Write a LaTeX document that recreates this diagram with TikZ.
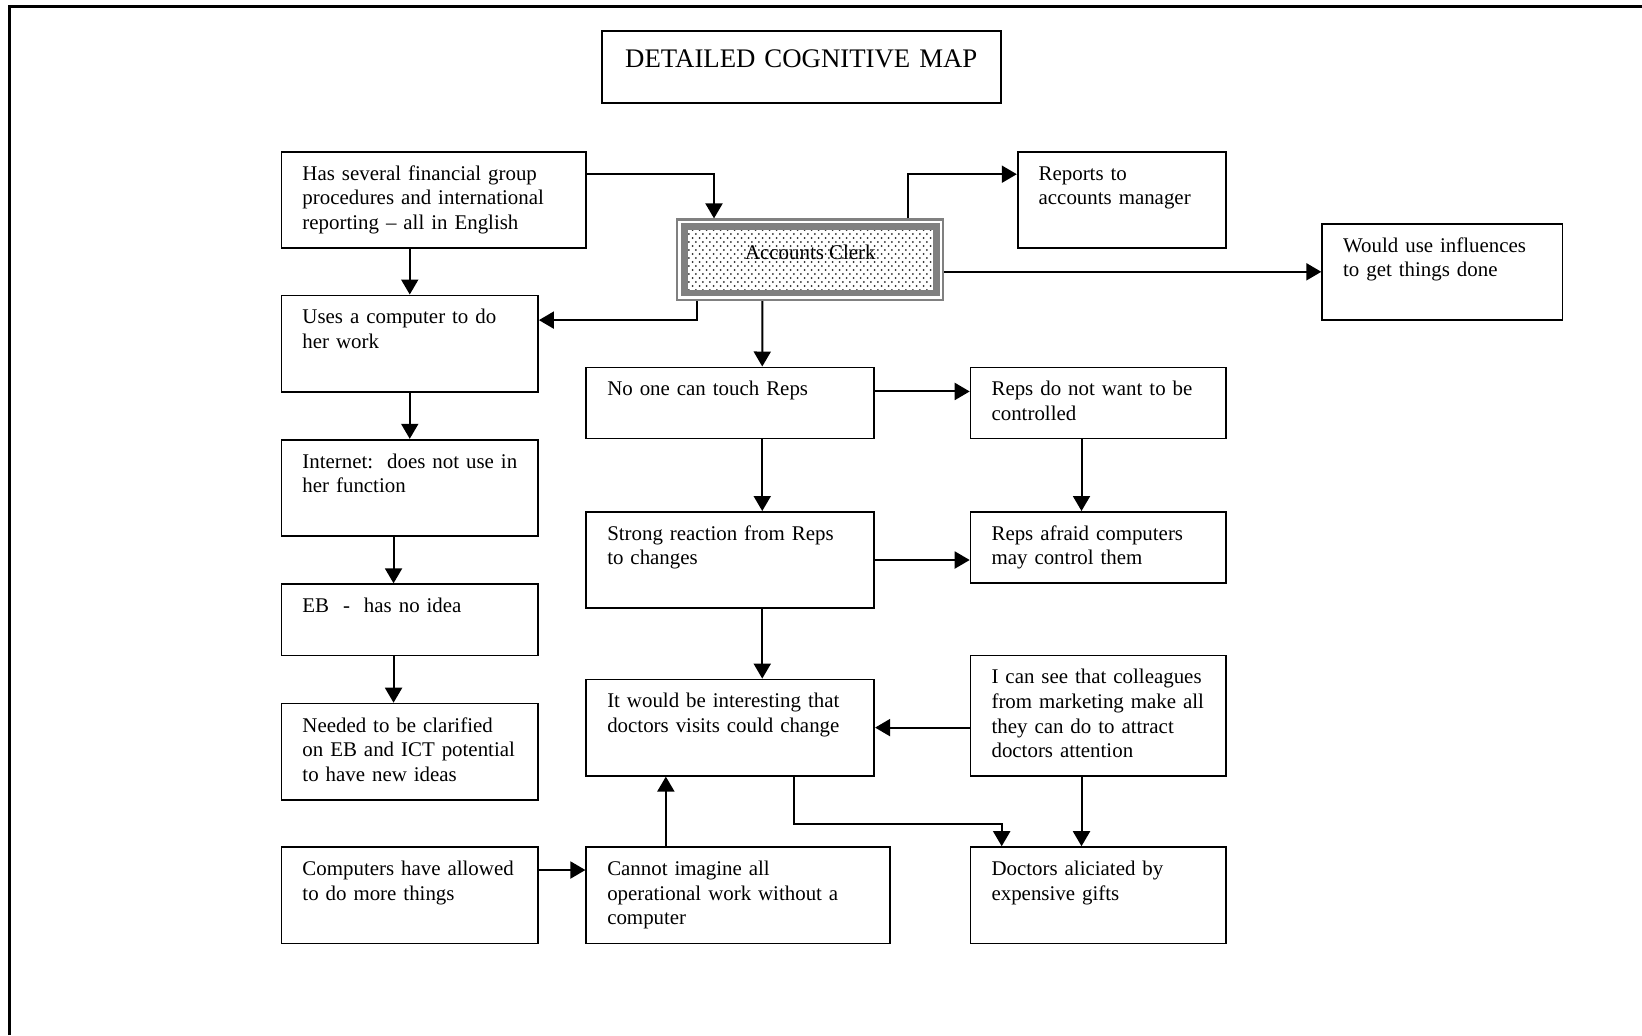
\documentclass[tikz,border=0pt]{standalone}
\usepackage{fontspec}
\setmainfont{Liberation Serif}
\usetikzlibrary{arrows.meta,patterns}

% staggered dot fill for the central box
\pgfdeclarepatternformonly{clerkdots}{\pgfpointorigin}{\pgfpoint{3.6pt}{4.2pt}}%
  {\pgfpoint{3.6pt}{4.2pt}}{%
  \pgfpathcircle{\pgfpoint{0.9pt}{1.05pt}}{0.55pt}%
  \pgfpathcircle{\pgfpoint{2.7pt}{3.15pt}}{0.55pt}%
  \pgfusepath{fill}%
}

\begin{document}
\begin{tikzpicture}[
    x=0.5pt, y=-0.5pt,
    font=\fontsize{10.45}{12.3}\selectfont,
    % text box: left margin 10.5pt, lines broken by hand
    box/.style={draw, line width=0.85pt, anchor=north west, align=left,
                inner xsep=4pt, inner ysep=6pt, text height=8.25pt,
                execute at begin node={\leftskip=6.5pt},
                text width=120.3pt, text depth=27.9pt},
    short/.style={text depth=15.35pt},
    tall/.style={text depth=40pt},
    mid/.style={text width=136pt},
    rcol/.style={text width=119.75pt},
    head/.style={draw, line width=0.8pt, anchor=north west, align=center,
                 inner xsep=5pt, inner ysep=6pt, text width=189.5pt,
                 text height=12.3pt, text depth=11.7pt,
                 font=\fontsize{13.4}{15.4}\selectfont},
    clerk/.style={draw=gray, line width=1.1pt, anchor=north west, inner sep=0pt,
                  minimum width=133pt, minimum height=40.2pt,
                  text height=7pt, text depth=7.6pt,
                  path picture={
                    \draw[gray, line width=3.35pt, pattern=clerkdots,
                          pattern color=black!85]
                      ([shift={(3.5pt,-3.5pt)}]path picture bounding box.north west)
                      rectangle
                      ([shift={(-3.5pt,3.5pt)}]path picture bounding box.south east);}},
    arr/.style={line width=1pt, -{Triangle[length=7.5pt, width=8.5pt]}}
  ]

  \useasboundingbox (0,0) rectangle (1642,1035);

  % page frame, open at the right and the bottom
  \draw[line width=1.3pt] (9.3,1035) -- (9.3,6.7) -- (1642,6.7);

  \node[head] (title) at (601,30) {DETAILED COGNITIVE MAP};

  \node[box, text width=144.4pt] (fin) at (280.6,150.8)
    {Has several financial group\\procedures and international\\reporting -- all in English};
  \node[clerk] (clerk) at (676.2,218.4) {Accounts Clerk};
  \node[box, text width=96.2pt] (rep) at (1016.8,150.8) {Reports to\\accounts manager};
  \node[box, text width=112.1pt] (infl) at (1321.3,222.8)
    {Would use influences\\to get things done};

  % left column
  \node[box] (comp) at (280.6,294.5) {Uses a computer to do\\her work};
  \node[box] (net) at (280.6,438.8) {Internet:\ \ does not use in\\her function};
  \node[box, short] (eb) at (280.6,583.3) {EB\ \ -\ \ has no idea};
  \node[box] (clar) at (280.6,702.7)
    {Needed to be clarified\\on EB and ICT potential\\to have new ideas};
  \node[box] (more) at (280.6,846.2) {Computers have allowed\\to do more things};

  % middle column
  \node[box, mid, short] (touch) at (585.4,366.5) {No one can touch Reps};
  \node[box, mid] (react) at (585.4,511) {Strong reaction from Reps\\to changes};
  \node[box, mid] (visit) at (585.4,678.6)
    {It would be interesting that\\doctors visits could change};
  \node[box, text width=143.9pt] (imag) at (585.4,846.2)
    {Cannot imagine all\\operational work without a\\computer};

  % right column
  \node[box, rcol, short] (ctrl) at (969.7,366.5) {Reps do not want to be\\controlled};
  \node[box, rcol, short] (fear) at (969.7,511) {Reps afraid computers\\may control them};
  \node[box, rcol, tall] (coll) at (969.7,654.5)
    {I can see that colleagues\\from marketing make all\\they can do to attract\\doctors attention};
  \node[box, rcol] (gift) at (969.7,846.2) {Doctors aliciated by\\expensive gifts};

  % links around the clerk
  \draw[arr] ([yshift=12.85pt]fin.east) -| ([xshift=18.9pt]clerk.north west);
  \draw[arr] ([xshift=-18.35pt]clerk.north east) |- ([yshift=12.8pt]rep.west);
  \draw[arr] (clerk.east |- infl.west) -- (infl.west);
  \draw[arr] ([xshift=10.55pt]clerk.south west) |- ([yshift=11.7pt]comp.east);
  \draw[arr] ([xshift=-23.95pt]clerk.south) -- ([xshift=16pt]touch.north);

  % left chain
  \draw[arr] (fin.south -| comp.north) -- (comp.north);
  \draw[arr] (comp.south) -- (net.north);
  \draw[arr] ([xshift=-8.1pt]net.south) -- ([xshift=-8.1pt]eb.north);
  \draw[arr] ([xshift=-8.1pt]eb.south) -- ([xshift=-8.1pt]clar.north);
  \draw[arr] ([yshift=12.6pt]more.east) -- ([yshift=12.6pt]imag.west);

  % reps and doctors
  \draw[arr] ([yshift=5.75pt]touch.east) -- ([yshift=5.75pt]ctrl.west);
  \draw[arr] ([xshift=16pt]touch.south) -- ([xshift=16pt]react.north);
  \draw[arr] ([xshift=16pt]react.south) -- ([xshift=16pt]visit.north);
  \draw[arr] ([xshift=-8.4pt]ctrl.south) -- ([xshift=-8.4pt]fear.north);
  \draw[arr] (react.east) -- (react.east -| fear.west);
  \draw[arr] (coll.west |- visit.east) -- (visit.east);
  \draw[arr] ([xshift=-8.4pt]coll.south) -- ([xshift=-8.4pt]gift.north);
  \draw[arr] ([xshift=31.95pt]visit.south) -- ++(0,47.7)
    -| ([xshift=16pt]gift.north west);
  \draw[arr] ([xshift=-36.15pt]imag.north) -- ([xshift=-32.2pt]visit.south);

\end{tikzpicture}
\end{document}
